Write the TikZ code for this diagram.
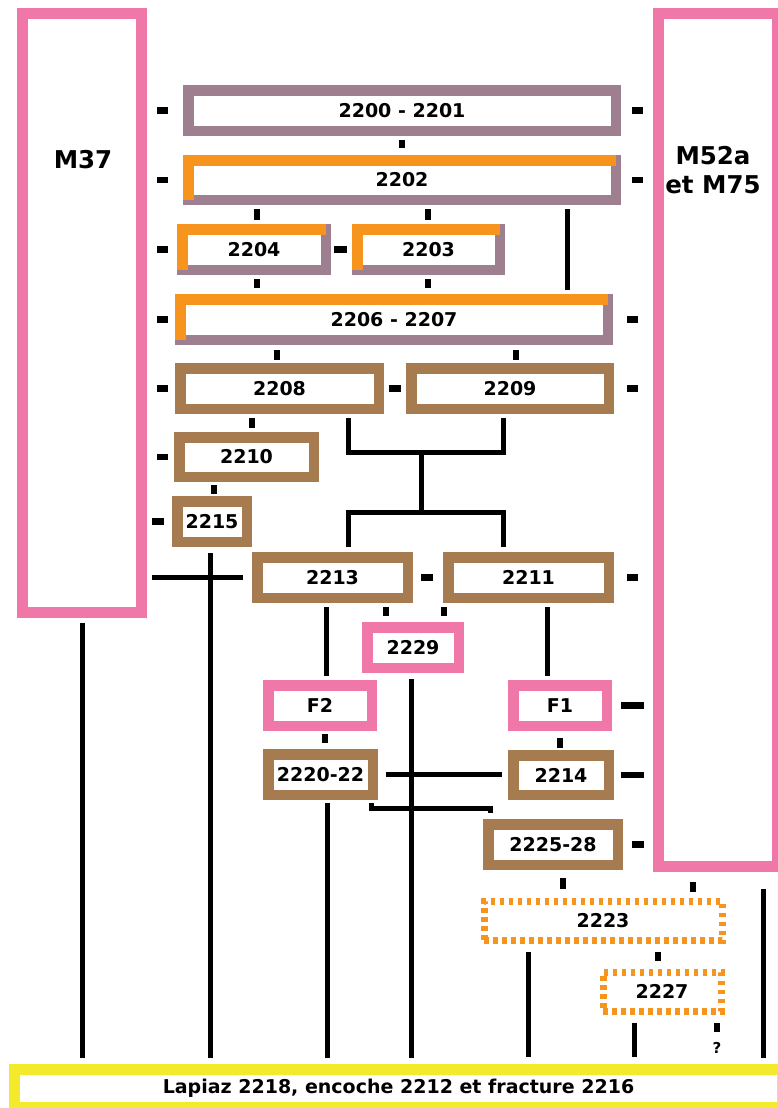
\documentclass[tikz,border=0pt]{standalone}
\usepackage{fontspec}
\setmainfont{DejaVu Sans}
\usepackage{tikz}
\usetikzlibrary{calc, positioning}
\definecolor{hpink}{HTML}{EF78A9}
\definecolor{hbrown}{HTML}{A67B4F}
\definecolor{hmauve}{HTML}{9E7F8F}
\definecolor{horange}{HTML}{F7941E}
\definecolor{hyellow}{HTML}{F4EA2C}
\tikzset{
  unitbox/.style  = {draw, line width=10.5pt, fill=white, inner sep=0pt,
                     minimum height=40.5pt, font=\fontsize{19}{22}\selectfont\bfseries},
  mauvebox/.style = {unitbox, draw=hmauve},
  brownbox/.style = {unitbox, draw=hbrown},
  pinkbox/.style  = {unitbox, draw=hpink},
  dotbox/.style   = {unitbox, draw=horange, line width=7pt, minimum height=39pt,
                     dash pattern=on 4.5pt off 4.5pt},
  bigframe/.style = {draw=hpink, line width=11pt, fill=white, inner sep=0pt},
  basebox/.style  = {unitbox, draw=hyellow, line width=11pt, minimum height=38pt},
  biglab/.style   = {font=\fontsize{24.5}{29}\selectfont\bfseries, align=center, inner sep=0pt},
  seqline/.style  = {draw=black, line width=5pt},
  tickmark/.style = {draw=black, line width=5.5pt},
  sidebar/.style  = {draw=black, line width=6.5pt},
}
\newcommand{\orangecap}[1]{%
  \draw[draw=horange, line width=10.5pt, line join=miter]
    ($(#1.south west)+(5.25,-5)$) -- ($(#1.north west)+(5.25,5.25)$)
    -- ($(#1.north east)+(-5,5.25)$);}

\begin{document}
\begin{tikzpicture}[x=1pt, y=-1pt]
  \useasboundingbox (0,0) rectangle (777,1108);
  \coordinate (colm37)   at (82,0);
  \coordinate (col2204)  at (257,0);
  \coordinate (col2203)  at (428,0);
  \coordinate (col2202)  at (567,0);
  \coordinate (col2208)  at (277,0);
  \coordinate (col2209)  at (516,0);
  \coordinate (col2210)  at (252,0);
  \coordinate (col2215)  at (214,0);
  \coordinate (col2215l) at (210,0);
  \coordinate (coljl)    at (348,0);
  \coordinate (coljr)    at (503,0);
  \coordinate (jtop)     at (421,452);
  \coordinate (jbot)     at (421,512);
  \coordinate (colF2)    at (326,0);
  \coordinate (colF2t)   at (325,0);
  \coordinate (col2229l) at (386,0);
  \coordinate (col2229r) at (444,0);
  \coordinate (col2229)  at (411,0);
  \coordinate (colF1)    at (547,0);
  \coordinate (col2220)  at (327,0);
  \coordinate (col2225)  at (563,0);
  \coordinate (colm52)   at (693,0);
  \coordinate (col2223)  at (528,0);
  \coordinate (col2227t) at (658,0);
  \coordinate (col2227)  at (634,0);
  \coordinate (colq)     at (717,0);
  \coordinate (colm52r)  at (763,0);
  \node[bigframe, minimum width=119pt, minimum height=599pt] (m37) at (82,313) {};
  \node[bigframe, minimum width=119pt, minimum height=853pt] (m52) at (718,440) {};
  \node[biglab] (m37lab) at (83,160) {M37};
  \node[biglab] (m52lab) at (713,170) {M52a\\et M75};
  \node[mauvebox, minimum width=427.5pt] (b2200) at (402,110.5) {2200 - 2201};
  \node[mauvebox, minimum width=427.5pt, minimum height=39.5pt] (b2202) at (402,180) {2202};
  \node[mauvebox, minimum width=143.5pt] (b2204) at (254,249.5) {2204};
  \node[mauvebox, minimum width=142.5pt] (b2203) at (428.5,249.5) {2203};
  \node[mauvebox, minimum width=427.5pt] (b2206) at (394,319.5) {2206 - 2207};
  \node[brownbox, minimum width=198.5pt] (b2208) at (279.5,388.5) {2208};
  \node[brownbox, minimum width=197.5pt] (b2209) at (510,388.5) {2209};
  \node[brownbox, minimum width=134.5pt, minimum height=39.5pt] (b2210) at (246.5,457) {2210};
  \node[brownbox, minimum width=69.5pt] (b2215) at (212,521.5) {2215};
  \node[brownbox, minimum width=150.5pt] (b2213) at (332.5,577.5) {2213};
  \node[brownbox, minimum width=160.5pt] (b2211) at (528.5,577.5) {2211};
  \node[pinkbox, minimum width=91.5pt] (b2229) at (413,647.5) {2229};
  \node[pinkbox, minimum width=103.5pt] (bF2) at (320,705.5) {F2};
  \node[pinkbox, minimum width=93.5pt] (bF1) at (560,705.5) {F1};
  \node[brownbox, minimum width=104.5pt] (b2220) at (320.5,774.5) {2220-22};
  \node[brownbox, minimum width=95.5pt, minimum height=39.5pt] (b2214) at (561,775) {2214};
  \node[brownbox, minimum width=129.5pt] (b2225) at (553,844.5) {2225-28};
  \node[dotbox, minimum width=238pt] (b2223) at (603,920.5) {2223};
  \node[dotbox, minimum width=118pt] (b2227) at (662,991.5) {2227};
  \node[font=\fontsize{15}{17}\selectfont\bfseries, inner sep=0pt] (qmark) at (717,1048) {?};
  \node[basebox, minimum width=768pt] (base) at (398.5,1088.5) {Lapiaz 2218, encoche 2212 et fracture 2216};
  \orangecap{b2202}
  \orangecap{b2204}
  \orangecap{b2203}
  \orangecap{b2206}
  \draw[sidebar, shorten <=10pt, shorten >=15pt] (m37.east |- b2200) -- (b2200.west);
  \draw[sidebar, shorten <=10pt, shorten >=15pt] (m37.east |- b2202) -- (b2202.west);
  \draw[sidebar, shorten <=10pt, shorten >=9pt] (m37.east |- b2204) -- (b2204.west);
  \draw[sidebar, shorten <=10pt, shorten >=7pt] (m37.east |- b2206) -- (b2206.west);
  \draw[sidebar, shorten <=10pt, shorten >=7pt] (m37.east |- b2208) -- (b2208.west);
  \draw[sidebar, shorten <=10pt, shorten >=6pt] (m37.east |- b2210) -- (b2210.west);
  \draw[sidebar, shorten <=5pt, shorten >=8pt] (m37.east |- b2215) -- (b2215.west);
  \draw[sidebar, shorten <=11pt, shorten >=10pt] (b2200.east) -- (m52.west |- b2200);
  \draw[sidebar, shorten <=11pt, shorten >=10pt] (b2202.east) -- (m52.west |- b2202);
  \draw[sidebar, shorten <=14pt, shorten >=15pt] (b2206.east) -- (m52.west |- b2206);
  \draw[sidebar, shorten <=13pt, shorten >=15pt] (b2209.east) -- (m52.west |- b2209);
  \draw[sidebar, shorten <=13pt, shorten >=15pt] (b2211.east) -- (m52.west |- b2211);
  \draw[sidebar, shorten <=9pt, shorten >=9pt] (bF1.east) -- (m52.west |- bF1);
  \draw[sidebar, shorten <=7pt, shorten >=9pt] (b2214.east) -- (m52.west |- b2214);
  \draw[sidebar, shorten <=9pt, shorten >=9pt] (b2225.east) -- (m52.west |- b2225);
  \draw[sidebar, shorten <=3pt, shorten >=5pt] (b2204.east) -- (b2203.west);
  \draw[sidebar, shorten <=5pt, shorten >=5pt] (b2208.east) -- (b2209.west);
  \draw[sidebar, shorten <=8pt, shorten >=10pt] (b2213.east) -- (b2211.west);
  \draw[tickmark, shorten <=4pt, shorten >=7pt] (b2200.south) -- (b2202.north);
  \draw[tickmark, shorten <=4pt, shorten >=4pt] (col2204 |- b2202.south) -- (col2204 |- b2204.north);
  \draw[tickmark, shorten <=4pt, shorten >=4pt] (col2203 |- b2202.south) -- (col2203 |- b2203.north);
  \draw[seqline, shorten <=4pt, shorten >=4pt] (col2202 |- b2202.south) -- (col2202 |- b2206.north);
  \draw[tickmark, shorten <=4pt, shorten >=6pt] (col2204 |- b2204.south) -- (col2204 |- b2206.north);
  \draw[tickmark, shorten <=4pt, shorten >=6pt] (col2203 |- b2203.south) -- (col2203 |- b2206.north);
  \draw[tickmark, shorten <=5pt, shorten >=3pt] (col2208 |- b2206.south) -- (col2208 |- b2208.north);
  \draw[tickmark, shorten <=5pt, shorten >=3pt] (col2209 |- b2206.south) -- (col2209 |- b2209.north);
  \draw[tickmark, shorten <=4pt, shorten >=4pt] (col2210 |- b2208.south) -- (col2210 |- b2210.north);
  \draw[tickmark, shorten <=3pt, shorten >=2pt] (col2215 |- b2210.south) -- (col2215 |- b2215.north);
  \draw[seqline, shorten <=4pt, shorten >=4pt] (coljl |- b2208.south) |- (jtop) -| (coljr |- b2209.south);
  \draw[seqline] (jtop) -- (jbot);
  \draw[seqline, shorten <=5pt, shorten >=5pt] (coljl |- b2213.north) |- (jbot) -| (coljr |- b2211.north);
  \draw[seqline, shorten <=5pt, shorten >=9pt] (m37.east |- b2213) -- (b2213.west);
  \draw[seqline, shorten <=4pt, shorten >=4pt] (colF2 |- b2213.south) -- (colF2 |- bF2.north);
  \draw[tickmark, shorten <=4pt, shorten >=6pt] (col2229l |- b2213.south) -- (col2229l |- b2229.north);
  \draw[tickmark, shorten <=4pt, shorten >=6pt] (col2229r |- b2211.south) -- (col2229r |- b2229.north);
  \draw[seqline, shorten <=4pt, shorten >=4pt] (colF1 |- b2211.south) -- (colF1 |- bF1.north);
  \draw[tickmark, shorten <=3pt, shorten >=6pt] (colF2t |- bF2.south) -- (colF2t |- b2220.north);
  \draw[tickmark, shorten <=7pt, shorten >=2pt] (bF1.south) -- (bF1.south |- b2214.north);
  \draw[seqline, shorten <=8pt, shorten >=6pt] (b2220.east) -- (b2220.east -| b2214.west);
  \draw[seqline] ([xshift=-7pt, yshift=-3pt]b2220.south east) -- ++(0,5)
    -| ([xshift=7pt, yshift=6pt]b2225.north west);
  \draw[tickmark, shorten <=8pt, shorten >=9pt] (col2225 |- b2225.south) -- (col2225 |- b2223.north);
  \draw[tickmark, shorten <=10pt, shorten >=5.5pt] (colm52 |- m52.south) -- (colm52 |- b2223.north);
  \draw[tickmark, shorten <=8.5pt, shorten >=7.5pt] (col2227t |- b2223.south) -- (col2227t |- b2227.north);
  \draw[tickmark, shorten <=8.5pt, shorten >=10.5pt] (colq |- b2227.south) -- (qmark.north);
  \draw[seqline, shorten <=5pt, shorten >=6pt] (colm37 |- m37.south) -- (colm37 |- base.north);
  \draw[seqline, shorten <=6pt, shorten >=6pt] (col2215l |- b2215.south) -- (col2215l |- base.north);
  \draw[seqline, shorten <=6pt, shorten >=6pt] (col2229 |- b2229.south) -- (col2229 |- base.north);
  \draw[seqline, shorten <=3pt, shorten >=6pt] (col2220 |- b2220.south) -- (col2220 |- base.north);
  \draw[seqline, shorten <=8.5pt, shorten >=7pt] (col2223 |- b2223.south) -- (col2223 |- base.north);
  \draw[seqline, shorten <=8.5pt, shorten >=7pt] (col2227 |- b2227.south) -- (col2227 |- base.north);
  \draw[seqline, shorten <=17pt, shorten >=6pt] (colm52r |- m52.south) -- (colm52r |- base.north);
\end{tikzpicture}
\end{document}
